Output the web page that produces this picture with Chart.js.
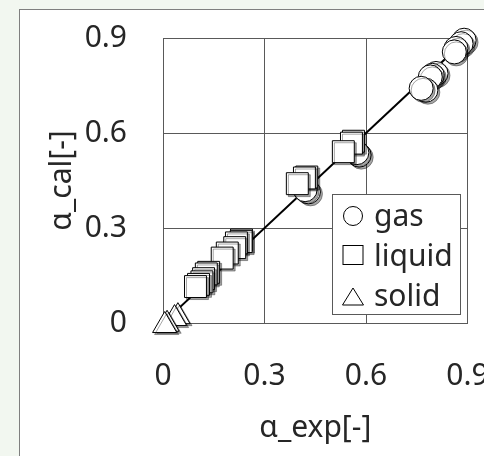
<!DOCTYPE html>
<html>
<head>
<meta charset="utf-8">
<script src="https://cdn.jsdelivr.net/npm/chart.js@4.4.0/dist/chart.umd.min.js"></script>
<style>
html, body { margin: 0; padding: 0; background: #f2f7f0; overflow: hidden; }
#frame { position: absolute; left: 19px; top: 9px; width: 480px; height: 460px; background: #fff; border: 1px solid #7f7f7f; }
#chart { position: absolute; left: 0; top: 0; }
</style>
</head>
<body>
<div id="frame"></div>
<canvas id="chart" width="484" height="456"></canvas>
<script>
// Data
const seriesNames = ['gas', 'liquid', 'solid'];

const gasX = [0.890, 0.881, 0.866, 0.861, 0.807, 0.796, 0.790, 0.777, 0.763, 0.580, 0.573, 0.430, 0.420];
const gasY = [0.893, 0.882, 0.867, 0.856, 0.788, 0.782, 0.777, 0.735, 0.741, 0.530, 0.538, 0.414, 0.421];

const liquidX = [0.563, 0.557, 0.533, 0.425, 0.418, 0.397, 0.232, 0.231, 0.217, 0.212, 0.190, 0.175,
                 0.135, 0.128, 0.120, 0.115, 0.105, 0.096];
const liquidY = [0.574, 0.568, 0.541, 0.461, 0.458, 0.440, 0.262, 0.257, 0.253, 0.238, 0.221, 0.205,
                 0.160, 0.155, 0.140, 0.130, 0.122, 0.115];

const solidX = [0.044, 0.034, 0.012, 0.005];
const solidY = [0.020, 0.014, -0.004, -0.008];

const fitX = [0, 0.9];
const fitY = [0, 0.9];

const tickValues = [0, 0.3, 0.6, 0.9];
const tickLabels = ['0', '0.3', '0.6', '0.9'];

const FONT = '"Noto Sans", "Open Sans", sans-serif';
const TEXT = '#262626';
const GRID = '#595959';

const toPoints = (xs, ys) => xs.map((x, i) => ({ x: x, y: ys[i] }));

// gray drop shadow under the markers
const markerShadow = {
    id: 'markerShadow',
    beforeDatasetDraw(chart, args) {
        if (args.index > 2) return;
        const ctx = chart.ctx;
        ctx.save();
        ctx.shadowColor = 'rgba(0, 0, 0, 0.35)';
        ctx.shadowOffsetX = 2;
        ctx.shadowOffsetY = 2;
        ctx.shadowBlur = 0;
    },
    afterDatasetDraw(chart, args) {
        if (args.index > 2) return;
        chart.ctx.restore();
    }
};

// boxed legend inside the plot, bottom right
const boxLegend = {
    id: 'boxLegend',
    afterDraw(chart) {
        const ctx = chart.ctx;
        const area = chart.chartArea;
        const w = 128, h = 120;
        const L = Math.round(area.right - 8 - w) + 0.5;
        const T = Math.round(area.bottom - 9 - h) + 0.5;
        ctx.save();
        ctx.fillStyle = '#fff';
        ctx.strokeStyle = GRID;
        ctx.lineWidth = 1;
        ctx.fillRect(L, T, w, h);
        ctx.strokeRect(L, T, w, h);

        ctx.strokeStyle = '#000';
        // circle
        ctx.beginPath();
        ctx.arc(L + 20.5, T + 21.5, 9.5, 0, Math.PI * 2);
        ctx.stroke();
        // square
        ctx.strokeRect(L + 10.5, T + 51, 20, 19);
        // triangle
        ctx.beginPath();
        ctx.moveTo(L + 20.5, T + 93.5);
        ctx.lineTo(L + 31, T + 110.5);
        ctx.lineTo(L + 10, T + 110.5);
        ctx.closePath();
        ctx.stroke();

        ctx.fillStyle = TEXT;
        ctx.font = '30px ' + FONT;
        ctx.textBaseline = 'alphabetic';
        ctx.textAlign = 'left';
        seriesNames.forEach((name, i) => {
            ctx.fillText(name, L + 41.5, T + 31.5 + i * 40);
        });
        ctx.restore();
    }
};

const markerBase = {
    backgroundColor: '#fff',
    borderColor: '#000',
    borderWidth: 1,
    pointBorderWidth: 1,
    clip: false
};

new Chart(document.getElementById('chart'), {
    type: 'scatter',
    data: {
        datasets: [
            Object.assign({ label: seriesNames[0], data: toPoints(gasX, gasY), pointStyle: 'circle', pointRadius: 12, order: 1 }, markerBase),
            Object.assign({ label: seriesNames[1], data: toPoints(liquidX, liquidY), pointStyle: 'rect', pointRadius: 15.5, order: 0 }, markerBase),
            Object.assign({ label: seriesNames[2], data: toPoints(solidX, solidY), pointStyle: 'triangle', pointRadius: 14, order: 2 }, markerBase),
            {
                label: 'fit',
                data: toPoints(fitX, fitY),
                showLine: true,
                pointRadius: 0,
                borderColor: '#000',
                borderWidth: 2,
                order: 3
            }
        ]
    },
    options: {
        responsive: false,
        devicePixelRatio: 1,
        animation: false,
        events: [],
        layout: { padding: { left: 0, right: 16, top: 38, bottom: 0 } },
        plugins: {
            legend: { display: false },
            tooltip: { enabled: false }
        },
        scales: {
            x: {
                type: 'linear',
                min: 0,
                max: 0.9,
                afterBuildTicks: axis => { axis.ticks = tickValues.map(v => ({ value: v })); },
                afterFit: axis => { axis.height = 133; axis.paddingLeft = 0; axis.paddingRight = 0; },
                grid: { color: GRID, lineWidth: 1, drawTicks: false },
                border: { color: GRID },
                ticks: {
                    padding: 35,
                    color: TEXT,
                    maxRotation: 0,
                    font: { family: FONT, size: 30 },
                    callback: (v, i) => tickLabels[i]
                },
                title: {
                    display: true,
                    text: 'α_exp[-]',
                    color: TEXT,
                    padding: { top: 0, bottom: 10 },
                    font: { family: FONT, size: 30 }
                }
            },
            y: {
                type: 'linear',
                min: 0,
                max: 0.9,
                afterBuildTicks: axis => { axis.ticks = tickValues.map(v => ({ value: v })); },
                afterFit: axis => { axis.width = 163; axis.paddingTop = 0; axis.paddingBottom = 0; },
                grid: { color: GRID, lineWidth: 1, drawTicks: false },
                border: { color: GRID },
                ticks: {
                    padding: 36,
                    color: TEXT,
                    font: { family: FONT, size: 30 },
                    callback: (v, i) => tickLabels[i]
                },
                title: {
                    display: true,
                    text: 'α_cal[-]',
                    color: TEXT,
                    padding: { top: 44, bottom: 0 },
                    font: { family: FONT, size: 30 }
                }
            }
        }
    },
    plugins: [markerShadow, boxLegend]
});
</script>
</body>
</html>
